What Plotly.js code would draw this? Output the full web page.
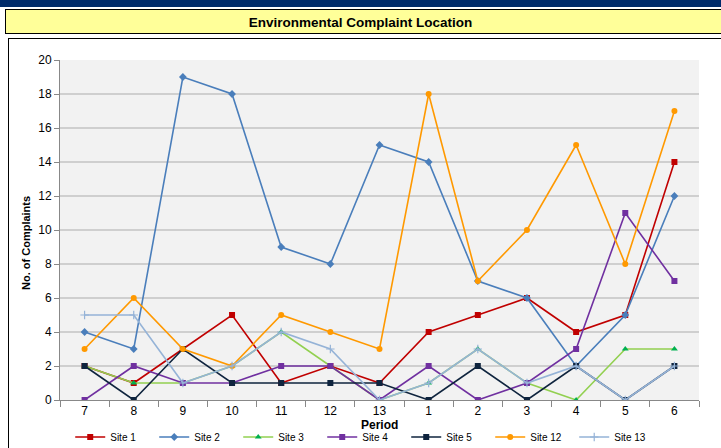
<!DOCTYPE html>
<html><head><meta charset="utf-8">
<script src="https://cdn.plot.ly/plotly-3.0.1.min.js"></script>
<style>
html,body{margin:0;padding:0;width:721px;height:448px;overflow:hidden;background:#fff;}
#bar{position:absolute;left:0;top:0;width:721px;height:7px;background:#002B6B;}
#tbox{position:absolute;left:5px;top:9px;width:730px;height:25px;background:#FFFF99;border:1px solid #000;box-sizing:border-box;}
#frame{position:absolute;left:8px;top:38px;width:730px;height:430px;border:1px solid #000;box-sizing:border-box;background:#fff;}
#chart{position:absolute;left:0;top:0;width:721px;height:448px;}
</style></head>
<body>
<div id="bar"></div><div id="tbox"></div><div id="frame"></div>
<div id="chart"></div>
<script>
const periods = ['7','8','9','10','11','12','13','1','2','3','4','5','6'];
const site1  = [2,1,3,5,1,2,1,4,5,6,4,5,14];
const site2  = [4,3,19,18,9,8,15,14,7,6,2,5,12];
const site3  = [2,1,1,2,4,2,0,1,3,1,0,3,3];
const site4  = [0,2,1,1,2,2,0,2,0,1,3,11,7];
const site5  = [2,0,3,1,1,1,1,0,2,0,2,0,2];
const site12 = [3,6,3,2,5,4,3,18,7,10,15,8,17];
const site13 = [5,5,1,2,4,3,0,1,3,1,2,0,2];
const seriesNames = ['Site 1','Site 2','Site 3','Site 4','Site 5','Site 12','Site 13'];

const series = [site1,site2,site3,site4,site5,site12,site13];
const lineColors = ['#C00000','#4A7EBB','#92D050','#7030A0','#0F243E','#FF9900','#95B3D7'];
const markColors = ['#C00000','#4A7EBB','#00B050','#7030A0','#0F243E','#FF9900','#95B3D7'];
const symbols = ['square','diamond','triangle-up','square','square','circle','cross-thin'];

const traces = series.map((ys,i)=>({
  type:'scatter', mode:'lines+markers', x:periods, y:ys, name:seriesNames[i],
  line:{color:lineColors[i], width:1.6},
  marker:{color:markColors[i], symbol:symbols[i], size:6, line:{color:markColors[i], width: symbols[i]==='cross-thin'?1.2:0}}
}));

const layout = {
  width:721, height:448,
  paper_bgcolor:'rgba(0,0,0,0)', plot_bgcolor:'#F2F2F2',
  font:{family:'Liberation Sans, Arial, sans-serif', size:11, color:'#000'},
  margin:{l:60, r:22, t:60, b:48},
  title:{text:'<b>Environmental Complaint Location</b>', font:{size:13.5, color:'#000'}, x:0.5, xanchor:'center', y:1-22/448, yanchor:'middle', yref:'container'},
  showlegend:true,
  legend:{orientation:'h', x:0.016, xref:'paper', xanchor:'left', y:11/448, yref:'container', yanchor:'middle', font:{size:10}, entrywidth:39, entrywidthmode:'pixels', itemwidth:30, bgcolor:'rgba(0,0,0,0)', traceorder:'normal'},
  xaxis:{type:'category', categoryorder:'array', categoryarray:periods, range:[-0.5,12.5],
    showgrid:false, showline:true, linecolor:'#888', ticks:'outside', tickson:'boundaries', ticklen:6, tickcolor:'#888',
    tickfont:{size:12}, automargin:false, zeroline:false},
  yaxis:{range:[0,20], dtick:2, showgrid:true, gridcolor:'#CFCFCF', gridwidth:1.5, showline:true, linecolor:'#888',
    ticks:'outside', ticklen:5, tickcolor:'#888', tickfont:{size:12}, automargin:false, zeroline:false},
  annotations:[
    {text:'<b>Period</b>', xref:'paper', yref:'paper', x:0.5, y:-24.5/340, xanchor:'center', yanchor:'middle', showarrow:false, font:{size:12}},
    {text:'<b>No. of Complaints</b>', xref:'paper', yref:'paper', x:-34/639, y:(400-243)/340, xanchor:'center', yanchor:'middle', textangle:-90, showarrow:false, font:{size:11}}
  ]
};
Plotly.newPlot('chart', traces, layout, {displayModeBar:false, staticPlot:true});
</script>
</body></html>
